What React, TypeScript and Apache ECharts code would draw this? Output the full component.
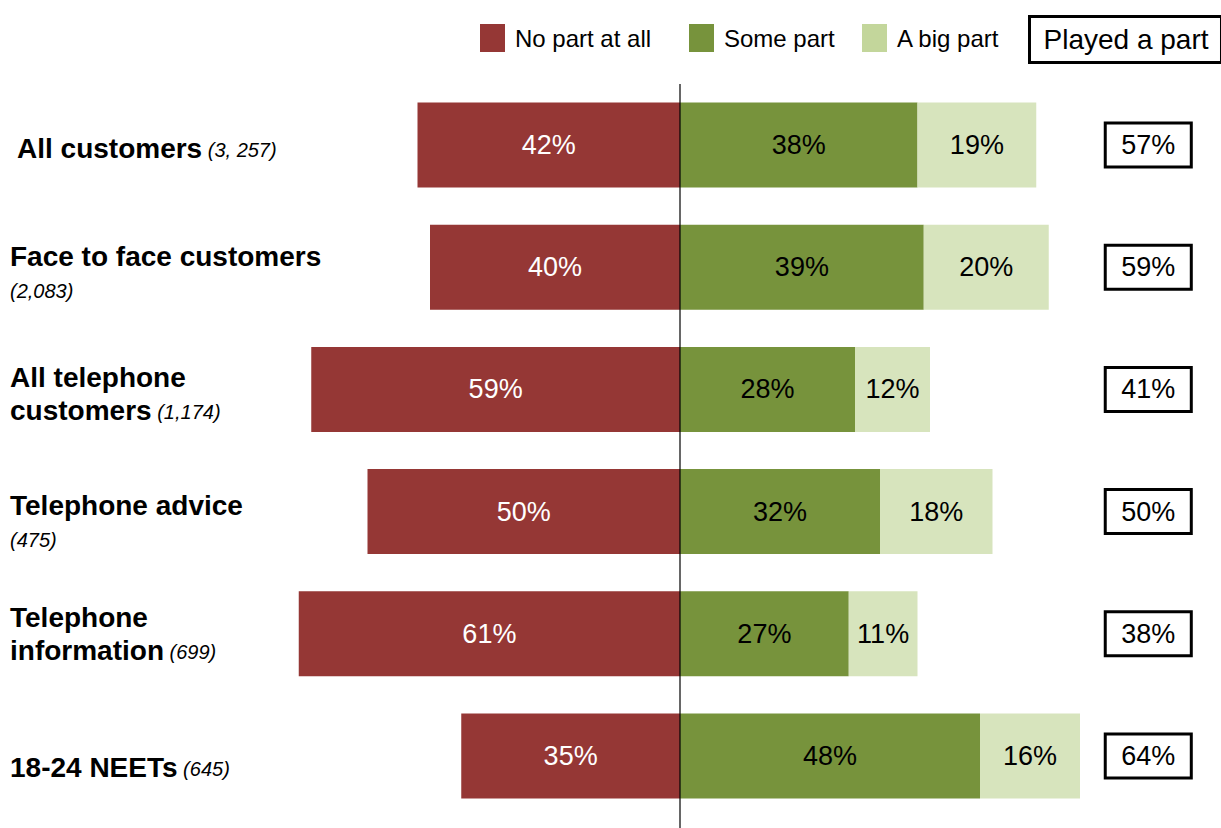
import React, { useEffect, useRef } from "react";
import * as echarts from "echarts";

const categories = [
  "All customers",
  "Face to face customers",
  "All telephone\ncustomers",
  "Telephone advice",
  "Telephone\ninformation",
  "18-24 NEETs",
];
const sampleSizes = ["(3, 257)", "(2,083)", "(1,174)", "(475)", "(699)", "(645)"];
const sampleOnNewLine = [false, true, false, true, false, false];
const noPart = [42, 40, 59, 50, 61, 35];
const somePart = [38, 39, 28, 32, 27, 48];
const bigPart = [19, 20, 12, 18, 11, 16];
const playedPart = [57, 59, 41, 50, 38, 64];
const seriesNames = ["No part at all", "Some part", "A big part"];
const playedTitle = "Played a part";

const FONT = "'Liberation Sans', Arial, Helvetica, sans-serif";
const colors = ["#953735", "#77933C", "#D7E4BD"];
const legendColors = ["#953735", "#77933C", "#C3D69B"];
const labelShift = [6, 12, 9, 20, 0, 24];
const labelLeftPad = [7, 0, 0, 0, 0, 0];

export default function App() {
  const ref = useRef<HTMLDivElement>(null);
  useEffect(() => {
    if (!ref.current) return;
    const chart = echarts.init(ref.current, null, { renderer: "svg" });
    const gridLeft = 242.5;
    const gridTop = 84;
    const option: any = {
      animation: false,
      textStyle: { fontFamily: FONT },
      grid: {
        left: gridLeft,
        top: gridTop,
        width: 843.75,
        height: 733,
        containLabel: false,
        outerBoundsMode: "none",
      },
      legend: seriesNames.map((n, i) => ({
        data: [{ name: n, itemStyle: { color: legendColors[i] } }],
        left: [480, 689, 862][i],
        top: 24,
        padding: 0,
        itemWidth: 25,
        itemHeight: 28,
        icon: "rect",
        selectedMode: false,
        textStyle: { fontSize: 24, color: "#000", fontFamily: FONT, padding: [0, 0, 0, 5] },
      })),
      xAxis: {
        type: "value",
        min: -70,
        max: 65,
        show: false,
      },
      yAxis: [
        {
          type: "category",
          inverse: true,
          data: categories.map((c, i) => ({
            value: c,
            textStyle: { align: "left", padding: [labelShift[i], 0, 0, labelLeftPad[i]] },
          })),
          axisLine: { show: false },
          axisTick: { show: false },
          axisLabel: {
            align: "left",
            margin: gridLeft - 10,
            formatter: (v: string, idx: number) =>
              `{b|${v}}` + (sampleOnNewLine[idx] ? "\n" : "") + `{i|${sampleOnNewLine[idx] ? "" : " "}${sampleSizes[idx]}}`,
            rich: {
              b: { fontSize: 28, fontWeight: "bold", color: "#000", lineHeight: 33, fontFamily: FONT, align: "left" },
              i: { fontSize: 20, fontStyle: "italic", color: "#000", lineHeight: 33, fontFamily: FONT, padding: [3, 0, 0, 0], align: "left" },
            },
          },
        },
        {
          type: "category",
          inverse: true,
          position: "right",
          data: playedPart.map((v) => v + "%"),
          axisLine: { show: false },
          axisTick: { show: false },
          axisLabel: {
            align: "left",
            margin: 19,
            fontSize: 27,
            color: "#000",
            fontFamily: FONT,
            lineHeight: 30,
            borderColor: "#000",
            borderWidth: 3,
            padding: [7, 16, 7, 16],
          },
        },
      ],
      series: [noPart.map((v) => -v), somePart, bigPart].map((d, i) => ({
        name: seriesNames[i],
        type: "bar",
        stack: "total",
        barWidth: 85,
        data: d,
        itemStyle: { color: colors[i] },
        label: {
          show: true,
          position: "inside",
          fontSize: 27,
          fontFamily: FONT,
          color: i === 0 ? "#fff" : "#000",
          formatter: (p: any) => Math.abs(p.value) + "%",
        },
      })),
    };
    chart.setOption(option);
    const zeroX = chart.convertToPixel({ xAxisIndex: 0 }, 0) as number;
    chart.setOption({
      graphic: [
        {
          type: "line",
          shape: { x1: zeroX, y1: gridTop, x2: zeroX, y2: 828 },
          style: { stroke: "#000", lineWidth: 1.2 },
          z: 10,
        },
        {
          type: "text",
          left: 1028,
          top: 15,
          style: {
            text: playedTitle,
            fontSize: 28,
            fontFamily: FONT,
            fill: "#000",
            lineHeight: 32,
            borderColor: "#000",
            borderWidth: 3,
            padding: [7, 13, 7, 14],
          },
        },
      ],
    });
    return () => chart.dispose();
  }, []);
  return (
    <div
      ref={ref}
      style={{ position: "fixed", left: 0, top: 0, width: 1221, height: 828, background: "#fff" }}
    />
  );
}
